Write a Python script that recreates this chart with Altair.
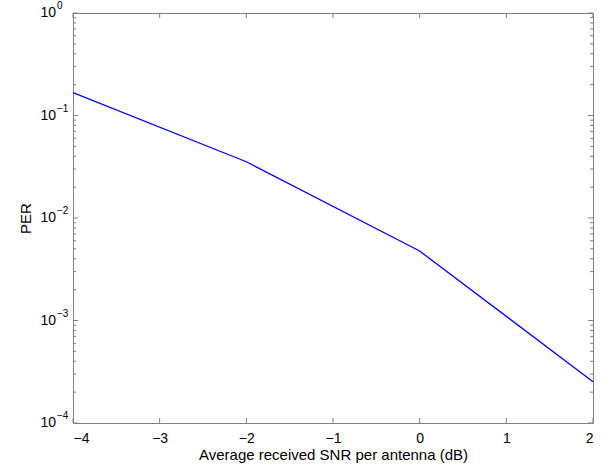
import altair as alt
import pandas as pd

snr = [-4, -2, 0, 2]
per = [0.167, 0.0354, 0.00476, 0.000253]

x_major = [-4, -3, -2, -1, 0, 1, 2]
y_major = [1e-4, 1e-3, 1e-2, 1e-1, 1.0]
y_exp = ["\u22124", "\u22123", "\u22122", "\u22121", "0"]
y_minor = [m * d for d in [1e-4, 1e-3, 1e-2, 1e-1] for m in range(2, 10)]

W, H = 520, 410
FONT = "Liberation Sans"
AX = "#808080"

xs = alt.Scale(domain=[-4, 2], nice=False, zero=False)
ys = alt.Scale(type="log", domain=[1e-4, 1], nice=False)

line_df = pd.DataFrame({"snr": snr, "per": per})
xt_df = pd.DataFrame({"x": x_major})
yt_df = pd.DataFrame({"y": y_major, "e": y_exp})
ym_df = pd.DataFrame({"y": y_minor})

line = alt.Chart(line_df).mark_line(color="#0000FF", strokeWidth=1.3).encode(
    x=alt.X("snr:Q", scale=xs,
            axis=alt.Axis(title="Average received SNR per antenna (dB)",
                          values=x_major, format="d", grid=False, ticks=False,
                          tickSize=0, domain=False, labelPadding=19,
                          labelBaseline="alphabetic", labelFontSize=14,
                          labelFont=FONT, labelColor="black",
                          titleFont=FONT, titleFontSize=15,
                          titleFontWeight="normal", titleColor="black",
                          titleBaseline="alphabetic", titleY=36)),
    y=alt.Y("per:Q", scale=ys,
            axis=alt.Axis(title="PER", labels=False, ticks=False, grid=False,
                          domain=False, titleFont=FONT, titleFontSize=15,
                          titleFontWeight="normal", titleColor="black",
                          titleX=-40, titleBaseline="bottom")),
)

tick_bottom = alt.Chart(xt_df).mark_rule(color=AX).encode(
    x=alt.X("x:Q", scale=xs), y=alt.value(H), y2=alt.value(H - 5))
tick_top = alt.Chart(xt_df).mark_rule(color=AX).encode(
    x=alt.X("x:Q", scale=xs), y=alt.value(0), y2=alt.value(5))
ymaj_l = alt.Chart(yt_df).mark_rule(color=AX).encode(
    y=alt.Y("y:Q", scale=ys), x=alt.value(0), x2=alt.value(5))
ymaj_r = alt.Chart(yt_df).mark_rule(color=AX).encode(
    y=alt.Y("y:Q", scale=ys), x=alt.value(W), x2=alt.value(W - 5))
ymin_l = alt.Chart(ym_df).mark_rule(color=AX).encode(
    y=alt.Y("y:Q", scale=ys), x=alt.value(0), x2=alt.value(3))
ymin_r = alt.Chart(ym_df).mark_rule(color=AX).encode(
    y=alt.Y("y:Q", scale=ys), x=alt.value(W), x2=alt.value(W - 3))

lab10 = alt.Chart(yt_df).mark_text(align="right", baseline="middle",
                                   font=FONT, fontSize=14, color="black").encode(
    y=alt.Y("y:Q", scale=ys), x=alt.value(-17), text=alt.value("10"))
labexp = alt.Chart(yt_df).mark_text(align="left", baseline="middle", dy=-7,
                                    font=FONT, fontSize=10, color="black").encode(
    y=alt.Y("y:Q", scale=ys), x=alt.value(-16), text="e:N")

chart = alt.layer(line, tick_bottom, tick_top, ymaj_l, ymaj_r, ymin_l, ymin_r,
                  lab10, labexp).properties(
    width=W, height=H,
    padding={"left": 73, "top": 13, "right": 13, "bottom": 47},
    autosize=alt.AutoSizeParams(type="none"),
    background="white",
).configure_view(stroke=AX, strokeWidth=1)

chart.save("out.html", embed_options={"renderer": "svg", "actions": False})
